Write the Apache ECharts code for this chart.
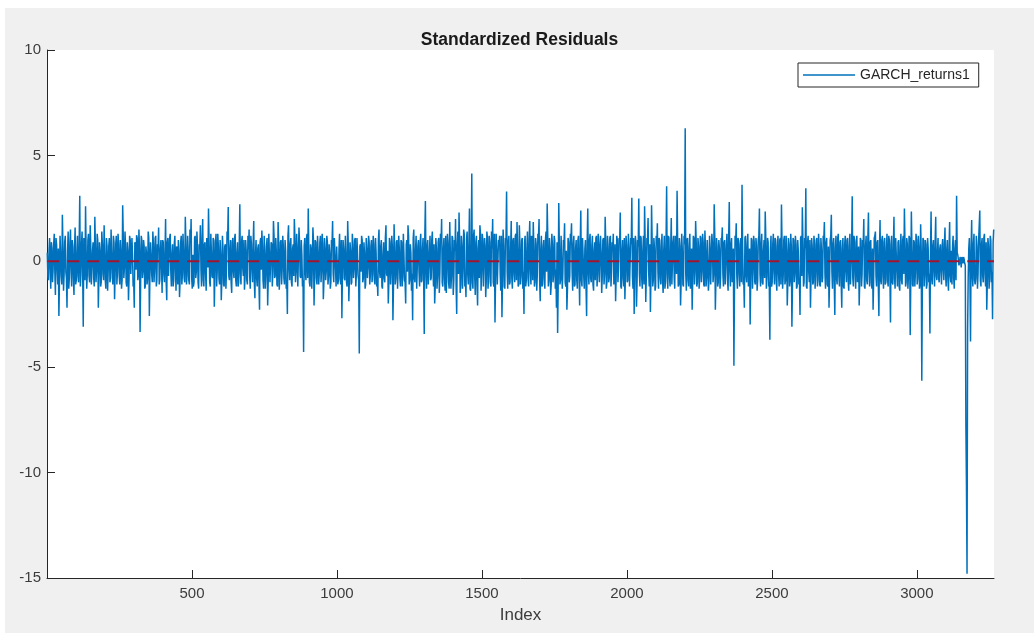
<!DOCTYPE html>
<html>
<head>
<meta charset="utf-8">
<title>Standardized Residuals</title>
<script src="https://cdn.jsdelivr.net/npm/echarts@6/dist/echarts.min.js"></script>
<style>
  html, body { margin: 0; padding: 0; background: #ffffff; width: 1034px; height: 633px; overflow: hidden; }
  #chart { position: absolute; left: 5px; top: 8px; width: 1029px; height: 625px; }
</style>
</head>
<body>
<div id="chart"></div>
<script>
// Standardized residuals of the GARCH fit.
// residualsOnStep holds observations 1, 5, 9, ...; residualsBetween holds 3, 7, 11, ...
const FIRST_INDEX = 1;
const INDEX_STEP = 4;
const LAST_INDEX = 3266;
const residualsOnStep = [
  0.4, -0.9, 1.1, -1.3, 0.6, -0.4, 1.3, -1.6, 0.8, -1.1, -2.6, 1.2, -0.7, 2.2, -1.4, 0.9, -0.5, -2.2, 1.4, -0.8,
  1.5, -1.2, 0.7, -1.6, 1.6, -0.9, 1.2, -1.0, 3.1, -0.6, 1.4, -3.1, 0.8, 2.6, -1.3, 1.0, -0.7, 1.7, -1.1, 0.5,
  -0.8, 2.1, -1.0, 1.3, -2.2, 0.9, -1.2, 1.4, -0.6, 1.7, -0.9, 1.1, -1.4, 0.7, -1.0, 1.5, -0.5, 1.2, -1.8, 0.8,
  -1.1, 1.3, -0.7, 1.0, -1.3, 2.65, -0.8, 1.4, -1.0, 0.9, -1.85, 1.2, -0.6, 1.1, -1.2, -2.2, 0.8, 1.23, -0.9, 1.5,
  -3.35, 1.2, -0.8, 1.0, -1.3, 0.7, -1.1, 1.4, -2.6, 0.9, -0.6, 1.4, -1.0, 1.1, -1.2, 0.8, 1.6, -0.9, 1.0, -1.5,
  0.9, -1.0, 2.0, -1.85, 1.1, -0.7, 1.3, -1.2, 0.8, -0.9, 1.2, -1.4, 0.6, 1.0, -1.7, 0.9, -1.1, 1.3, -0.8, 2.1,
  -1.1, 1.2, -0.9, 1.5, 2.0, -1.3, -1.2, 1.1, -0.8, 1.4, -1.0, 0.8, 1.7, -1.2, 2.0, -1.2, 0.9, -1.4, 1.1, 2.5,
  -1.0, 1.3, -0.7, 1.1, -2.16, 0.9, -1.2, 1.3, -0.8, 1.0, -1.85, 1.2, -1.1, 0.7, -1.3, 1.4, 2.57, -0.9, 1.0, -1.5,
  1.1, -0.8, 1.3, -1.2, 0.9, -1.0, 2.7, -1.1, 1.2, -0.7, -1.35, 1.0, -0.9, 1.2, 1.5, -1.3, 0.8, -1.0, 1.9, -1.75,
  1.0, -1.2, 0.8, -2.3, 1.1, 1.45, -0.9, 1.2, -1.3, 0.7, -2.1, 1.3, -1.0, 0.9, -1.2, 1.9, -0.8, 1.1, -1.1, 1.85,
  -1.35, 0.9, -1.1, 1.2, -0.8, 1.0, -1.3, -2.5, 1.7, -0.9, 1.1, -1.2, 0.8, 2.0, -1.0, 1.3, -1.2, 1.6, -0.7, 1.0,
  -1.2, -4.3, 1.1, -0.9, 1.3, 2.5, -1.0, 0.8, -1.3, 1.6, -2.1, 1.0, -0.8, 1.2, -1.1, 0.9, -1.0, 1.3, -1.8, 1.1,
  -0.9, 1.2, -1.1, 0.8, -1.3, 1.0, 1.9, -1.0, 1.1, -1.2, 0.7, -0.9, 1.3, -1.1, -2.7, 1.0, -0.8, 1.2, -1.0, 1.9,
  -1.9, 0.9, -1.1, 1.3, -0.8, 1.0, -1.2, 1.1, -0.7, -4.37, 0.8, 1.2, -1.0, 0.9, -1.3, 1.1, -0.8, 1.2, -1.1, 0.7,
  -1.0, 1.2, -0.9, 1.1, -1.2, -1.65, 1.5, -0.8, 1.0, -1.3, 0.9, -1.0, 1.7, -0.7, -2.0, 1.1, -1.1, 1.2, -2.8, 1.75,
  -1.1, 0.9, -1.3, 1.2, -0.8, 1.0, -1.2, 1.3, -0.9, -2.0, 1.0, 1.7, -1.1, 0.8, -1.4, -2.8, 1.5, -1.0, 1.2, -1.3,
  1.0, -1.2, 1.3, -0.9, 1.1, -3.45, 2.85, -1.3, 1.0, -1.1, 1.2, -0.8, 1.4, -1.2, -2.0, 1.1, -1.3, 0.9, -1.5, 1.3,
  2.0, -1.2, 1.1, -1.4, -1.5, 1.3, -1.0, 1.85, -1.3, 1.2, -1.6, 1.0, 2.0, -2.5, 1.4, 2.3, -1.5, 1.2, -1.3, 1.5,
  -1.2, -1.7, 1.4, -1.1, 2.5, -1.4, 4.15, -1.3, 1.5, -1.6, 1.2, -2.1, 1.0, 1.7, -1.4, 1.3, -1.2, 1.1, -1.7, 1.4,
  -1.3, 1.2, -1.0, 1.4, 2.0, -1.2, -2.9, 1.3, -1.1, 1.0, 1.2, -1.4, -2.65, 1.5, -1.2, 1.1, 3.3, -1.3, 1.2, -1.0,
  1.9, -1.3, 1.1, -1.0, 1.3, 1.85, -1.2, 1.7, -1.1, 1.0, -1.3, -2.5, 1.2, -0.9, 1.4, -1.2, 1.9, -1.1, 1.0, 1.85,
  -1.2, 1.1, -1.4, 1.3, 2.0, -1.9, 1.2, -1.1, 1.0, -1.3, 1.4, 2.73, -1.2, 1.1, -1.6, 1.3, -1.0, 1.2, -1.3, -2.2,
  -3.4, 2.75, -1.1, 1.2, -1.3, 1.0, 1.8, -1.2, -2.3, 1.1, -1.0, 1.3, 1.8, -1.4, 1.2, -1.1, 1.0, -1.3, 1.2, -2.1,
  2.4, -1.2, 1.1, -1.3, 1.0, -2.6, 2.5, -1.1, 1.3, -1.0, 1.2, -1.4, 0.9, 1.1, -1.2, 1.3, -1.0, 1.2, -1.5, 1.0,
  -1.1, 2.1, -1.3, 1.2, -1.0, 1.1, -1.2, 0.9, 1.3, -1.1, -1.9, 1.2, -1.0, 1.1, 2.3, -1.3, 1.0, -1.2, -1.8, 1.2,
  -1.0, 1.3, -1.2, 1.1, 3.0, -1.3, -2.5, 1.2, -2.16, 1.0, 2.97, -1.2, 1.1, -1.3, 1.2, 2.6, -1.93, 1.1, 2.05, -1.2,
  -2.4, 2.65, -1.2, 1.1, -1.4, 1.2, 1.8, -1.3, 1.0, -1.1, 1.3, -1.5, 1.2, -1.0, 3.55, -1.3, 1.1, -1.2, 2.05, -1.1,
  1.2, -1.3, 1.0, 3.33, -1.2, 1.1, -2.1, 1.3, -1.1, 1.2, 6.3, -1.4, 1.1, -1.2, 1.3, -1.0, -2.3, 1.2, -1.1, 1.9,
  -1.2, 1.1, -1.3, 1.2, -1.0, 1.3, -1.1, 1.45, -1.2, 1.0, -1.4, 1.2, -1.1, 1.3, -1.0, 2.7, -2.3, 1.1, -1.2, 1.0,
  -1.3, 1.1, 1.6, -1.2, 1.0, -1.1, 1.3, -1.4, 2.8, -1.2, 1.1, -1.0, -4.95, 1.2, 1.8, -1.3, 1.0, -1.2, 1.1, 3.62,
  -1.1, -2.2, 1.2, -1.0, 1.3, -1.2, -3.0, 1.1, -1.3, 1.2, -1.0, 1.1, -1.4, 1.0, 2.5, -1.2, 1.3, -1.1, 1.0, 2.35,
  -1.3, 1.1, -1.2, -3.72, 1.2, -1.0, 1.3, -1.1, 1.0, -1.4, 1.2, -1.2, 1.1, 2.68, -1.3, 1.0, -1.1, 1.2, -2.1, 1.1,
  -1.2, 1.3, -3.1, 1.1, -1.0, 1.2, -1.3, 1.0, -1.1, -2.55, 1.2, 2.55, -1.2, 1.1, 3.45, -1.3, 1.2, -1.0, -2.2, 1.1,
  -1.1, 1.2, -1.3, 1.0, -1.2, 1.3, -1.1, 1.1, -1.0, 1.2, 1.85, -1.3, 1.1, -1.2, -2.2, 1.0, 2.2, -1.3, 1.1, -2.55,
  1.2, -1.1, 1.3, -1.2, 1.0, -2.2, 1.1, -1.3, 1.2, -1.0, 1.1, -1.4, 1.3, -1.1, 3.08, -1.2, 1.0, -1.3, 1.2, -1.0,
  -2.1, 1.1, -1.2, 1.0, 2.0, -1.3, 1.2, -1.1, 2.3, -1.2, 1.0, -1.3, -2.3, 1.1, 1.4, -1.2, 1.0, -2.6, 1.95, -1.1,
  1.2, -1.3, 1.1, -1.0, 1.3, -1.2, 1.0, -2.9, 1.2, -1.1, 2.1, -1.3, 1.1, -1.2, 1.0, -1.4, 1.3, -1.1, 1.2, 2.5,
  -1.2, 1.1, -1.3, 1.2, -3.5, 2.35, -1.1, 1.0, -1.2, 1.3, -1.1, 1.2, -1.3, 1.75, -5.66, 1.1, -1.2, 1.0, -1.3, 1.1,
  -1.0, -3.42, 2.35, -1.1, 1.0, -1.2, 2.1, -0.9, 1.1, -1.0, 0.8, -1.1, 1.05, -0.9, 1.6, -1.2, 1.0, -1.4, 1.85, -1.0,
  -1.1, 1.2, -1.3, 1.0, 3.1, 0.3, -0.2, 0.2, -0.3, 0.1, 0.2, -0.1, -7.7, -14.8, -0.8, 1.1, -3.8, 1.95, -1.2, 1.3,
  -1.1, 1.2, -1.3, 1.0, 2.4, -1.2, 1.1, -1.0, 1.3, -1.2, -2.3, 1.1, -1.3, 1.2, -1.0, -2.75, 1.5
];
const residualsBetween = [
  -0.7, 0.5, -0.3, 0.9, -1.0, 0.8, -0.5, 1.1, -0.4, 0.6, -0.9, 0.3, -1.1, 0.7, -0.6, 1.2, -0.8, 0.5, -1.3, 0.9,
  -0.4, 1.0, -0.8, 0.6, -1.1, 0.3, -0.7, 0.9, -1.2, 0.8, -0.5, 1.1, -0.9, 0.4, -0.6, 1.3, -1.0, 0.7, -0.3, 0.9,
  -1.2, 0.6, -0.4, 1.0, -0.7, 0.5, -1.0, 0.8, -0.9, 0.3, -1.3, 0.7, -0.5, 1.1, -0.8, 0.4, -1.1, 0.9, -0.6, 1.2,
  -0.5, 0.8, -1.1, 0.4, -0.9, 1.2, -0.3, 0.7, -1.2, 0.5, -0.8, 1.0, -0.6, 0.3, -1.0, 0.9, -0.4, 1.1, -0.7, 0.6,
  -0.9, 1.0, -0.5, 0.7, -1.2, 0.4, -0.8, 1.1, -0.6, 0.3, -1.0, 0.8, -0.4, 1.2, -0.9, 0.5, -1.1, 0.6, -0.3, 1.0,
  -0.6, 0.4, -1.0, 0.9, -0.7, 1.1, -0.5, 0.3, -1.2, 0.8, -0.4, 0.7, -1.1, 0.5, -0.9, 1.2, -0.6, 0.4, -1.0, 0.8,
  -0.7, 0.5, -1.1, 0.9, -0.8, 0.3, -1.0, 1.2, -0.5, 0.7, -1.3, 0.6, -0.4, 1.0, -0.9, 0.8, -0.6, 1.1, -0.3, 0.9,
  -1.2, 0.4, -0.8, 1.0, -0.6, 1.3, -0.5, 0.7, -1.1, 0.3, -0.9, 0.6, -1.2, 0.8, -0.4, 1.0, -0.7, 0.5, -1.0, 0.9,
  -0.5, 1.1, -0.9, 0.4, -1.2, 0.7, -0.6, 0.9, -0.3, 1.0, -0.8, 0.5, -1.1, 0.6, -0.7, 1.2, -0.4, 0.8, -1.0, 0.3,
  -0.8, 0.6, -1.1, 0.9, -0.4, 0.7, -1.3, 0.5, -0.6, 1.1, -0.9, 0.3, -1.0, 0.8, -0.5, 1.2, -0.7, 0.4, -1.2, 0.9,
  -0.6, 1.0, -0.4, 0.7, -1.1, 0.5, -0.9, 1.2, -0.3, 0.8, -1.0, 0.6, -0.7, 1.1, -0.5, 0.4, -1.2, 0.9, -0.8, 0.3,
  -0.9, 0.7, -0.5, 1.1, -0.8, 0.4, -1.2, 0.6, -0.3, 1.0, -0.7, 0.9, -1.1, 0.5, -0.6, 1.2, -0.4, 0.8, -1.0, 0.6,
  -0.5, 0.9, -0.7, 0.4, -1.0, 0.8, -0.6, 1.1, -0.3, 0.7, -1.1, 0.5, -0.8, 1.0, -0.4, 0.6, -0.9, 0.3, -1.2, 0.8,
  -0.7, 0.5, -1.0, 0.8, -0.4, 1.1, -0.6, 0.3, -0.9, 0.7, -0.5, 1.0, -0.8, 0.4, -1.1, 0.6, -0.3, 0.9, -0.7, 1.0,
  -0.6, 0.8, -1.1, 0.4, -0.9, 1.0, -0.5, 0.7, -1.2, 0.3, -0.8, 1.1, -0.6, 0.5, -1.0, 0.9, -0.4, 0.7, -1.1, 0.6,
  -0.8, 1.0, -0.4, 0.6, -1.2, 0.9, -0.7, 0.3, -1.0, 0.8, -0.5, 1.2, -0.9, 0.4, -0.6, 1.1, -0.8, 0.5, -1.3, 0.7,
  -0.5, 0.9, -1.0, 0.6, -0.8, 1.2, -0.4, 0.7, -1.1, 0.5, -0.9, 1.0, -0.3, 0.8, -1.2, 0.6, -0.7, 1.1, -0.5, 0.9,
  -1.0, 0.6, -0.8, 1.2, -0.5, 0.9, -1.3, 0.4, -0.7, 1.1, -0.9, 0.5, -1.2, 0.8, -0.6, 1.0, -1.1, 0.7, -0.4, 1.3,
  -0.9, 1.1, -0.6, 0.8, -1.3, 0.5, -1.0, 1.2, -0.7, 0.9, -1.1, 0.6, -0.8, 1.3, -0.5, 1.0, -1.2, 0.7, -0.9, 1.1,
  -0.7, 0.9, -1.2, 0.6, -1.0, 1.3, -0.8, 0.5, -1.1, 0.8, -0.6, 1.2, -0.9, 0.7, -1.3, 1.0, -0.5, 0.9, -1.1, 0.6,
  -0.8, 1.0, -0.6, 1.2, -0.9, 0.5, -1.1, 0.8, -0.7, 1.1, -0.5, 0.9, -1.2, 0.6, -0.8, 1.0, -0.4, 1.2, -0.9, 0.7,
  -1.0, 0.8, -0.6, 1.1, -0.9, 0.5, -1.2, 0.7, -0.8, 1.0, -0.5, 1.2, -0.9, 0.6, -1.1, 0.8, -0.7, 1.0, -0.4, 0.9,
  -1.1, 0.7, -0.9, 1.2, -0.6, 0.8, -1.0, 0.5, -1.3, 0.9, -0.7, 1.1, -0.5, 0.8, -1.2, 0.6, -0.9, 1.0, -0.6, 0.8,
  -0.9, 1.1, -0.7, 0.6, -1.2, 0.9, -0.5, 1.0, -0.8, 0.7, -1.1, 0.5, -0.9, 1.2, -0.6, 0.8, -1.0, 0.4, -0.7, 1.1,
  -0.6, 0.9, -1.0, 0.7, -0.8, 1.2, -0.5, 0.6, -1.1, 0.8, -0.7, 1.0, -0.4, 0.9, -1.2, 0.5, -0.8, 1.1, -0.6, 0.7,
  -0.9, 0.6, -1.2, 0.8, -0.7, 1.1, -0.5, 0.9, -1.0, 0.7, -0.6, 1.2, -0.8, 0.5, -1.1, 0.9, -0.7, 1.0, -0.5, 0.8,
  -0.7, 1.0, -0.9, 0.6, -1.2, 0.8, -0.5, 1.1, -0.8, 0.7, -1.0, 0.5, -1.3, 0.9, -0.6, 1.2, -0.8, 0.6, -1.1, 0.9,
  -0.8, 1.2, -0.6, 0.9, -1.1, 0.7, -1.0, 0.5, -1.2, 0.8, -0.6, 1.0, -0.9, 0.7, -1.3, 0.6, -0.8, 1.1, -0.5, 0.9,
  -1.0, 0.7, -0.8, 1.1, -0.5, 0.9, -1.2, 0.6, -0.7, 1.0, -0.9, 0.5, -1.1, 0.8, -0.6, 1.2, -0.9, 0.7, -1.0, 0.6,
  -0.8, 1.0, -0.6, 0.9, -1.1, 0.7, -0.9, 1.2, -0.5, 0.8, -1.0, 0.6, -1.2, 0.9, -0.7, 1.1, -0.6, 0.8, -1.0, 0.7,
  -0.9, 1.1, -0.7, 0.8, -1.2, 0.6, -0.8, 1.0, -0.5, 0.9, -1.1, 0.7, -0.9, 1.2, -0.6, 0.8, -1.0, 0.5, -0.8, 1.1,
  -0.7, 0.9, -1.0, 0.6, -1.2, 0.8, -0.5, 1.1, -0.9, 0.7, -0.6, 1.0, -1.1, 0.8, -0.7, 1.2, -0.9, 0.5, -1.0, 0.8,
  -0.9, 0.7, -1.1, 1.0, -0.6, 0.8, -1.2, 0.5, -0.8, 1.1, -0.7, 0.9, -1.0, 0.6, -1.2, 0.9, -0.5, 1.0, -0.8, 0.7,
  -1.0, 0.8, -0.6, 1.1, -0.9, 0.7, -1.2, 0.5, -0.8, 1.0, -0.6, 0.9, -1.1, 0.7, -0.8, 1.2, -0.5, 0.8, -1.0, 0.6,
  -0.8, 1.1, -0.7, 0.9, -1.0, 0.6, -1.2, 0.8, -0.5, 1.0, -0.9, 0.7, -1.1, 0.6, -0.8, 1.2, -0.6, 0.9, -1.0, 0.7,
  -0.9, 1.0, -0.6, 0.8, -1.2, 0.7, -0.9, 1.1, -0.5, 0.9, -1.0, 0.6, -0.8, 1.2, -0.7, 0.9, -1.1, 0.5, -0.9, 1.0,
  -0.7, 0.9, -1.1, 0.6, -0.9, 1.2, -0.6, 0.8, -1.0, 0.7, -0.8, 1.1, -0.5, 0.9, -1.2, 0.7, -0.9, 1.0, -0.6, 0.8,
  -1.0, 0.8, -0.7, 1.1, -0.9, 0.6, -1.2, 0.9, -0.5, 1.0, -0.8, 0.7, -1.1, 0.5, -0.9, 1.0, -0.7, 0.8, -1.1, 0.6,
  -0.6, 0.5, -0.8, 0.7, -0.5, 0.9, -0.7, 0.4, -0.8, 0.6, -0.5, 0.7, -0.4, 0.8, -0.6, 0.5, -0.9, 0.6, -0.7, 0.5,
  0.7, -0.8, 0.6, -0.9, 0.4, 0.1, -0.1, 0.0, 0.2, -0.1, 0.1, -0.2, -10.6, -3.2, 0.6, -0.7, 0.5, -0.6, 0.8, -0.9,
  -0.8, 0.7, -0.6, 1.0, -0.9, 0.8, -0.7, 1.1, -0.6, 0.9, -1.0, 0.7, -0.8, 1.0, -0.5, 0.9
];

// Reference level drawn as a dashed line across the whole sample
const zeroLevel = 0;

// Axis settings
const yMin = -15, yMax = 10, yStep = 5;
const xMin = 0, xStep = 500;

// Interleave the two sample sets back into observation order
const seriesData = [];
residualsOnStep.forEach((v, i) => {
  seriesData.push([FIRST_INDEX + i * INDEX_STEP, v]);
  if (i < residualsBetween.length) {
    seriesData.push([FIRST_INDEX + i * INDEX_STEP + INDEX_STEP / 2, residualsBetween[i]]);
  }
});
const zeroData = [[FIRST_INDEX, zeroLevel], [LAST_INDEX, zeroLevel]];

const FONT = '"Liberation Sans", Arial, Helvetica, sans-serif';
const AXIS_COLOR = '#262626';
const LABEL_COLOR = '#3c3c3c';

const chart = echarts.init(document.getElementById('chart'), null, { renderer: 'canvas' });

chart.setOption({
  animation: false,
  backgroundColor: '#f0f0f0',
  title: {
    text: 'Standardized Residuals',
    left: 'center',
    top: 18,
    textStyle: { fontFamily: FONT, fontSize: 17.5, fontWeight: 'bold', color: '#1a1a1a' }
  },
  legend: {
    data: [{ name: 'GARCH_returns1', icon: 'rect' }],
    left: 793,
    top: 55,
    orient: 'horizontal',
    itemWidth: 52,
    itemHeight: 1.5,
    padding: [5, 9, 5, 5],
    backgroundColor: '#ffffff',
    borderColor: AXIS_COLOR,
    borderWidth: 1,
    borderRadius: 0,
    textStyle: { fontFamily: FONT, fontSize: 14, color: '#262626' }
  },
  grid: {
    left: 42,
    right: 40,
    top: 42,
    bottom: 55,
    show: true,
    backgroundColor: '#ffffff',
    borderWidth: 0,
    containLabel: false
  },
  xAxis: {
    type: 'value',
    min: xMin,
    max: LAST_INDEX,
    interval: xStep,
    name: 'Index',
    nameLocation: 'middle',
    nameGap: 29,
    nameTextStyle: { fontFamily: FONT, fontSize: 17, color: LABEL_COLOR },
    axisLine: { show: true, onZero: false, lineStyle: { color: AXIS_COLOR, width: 1 } },
    axisTick: { show: true, inside: true, length: 8, lineStyle: { color: AXIS_COLOR, width: 1 } },
    axisLabel: {
      showMinLabel: false,
      showMaxLabel: false,
      margin: 8,
      fontFamily: FONT,
      fontSize: 15,
      color: LABEL_COLOR,
      formatter: v => (v % xStep === 0 && v > 0) ? String(v) : ''
    },
    splitLine: { show: false }
  },
  yAxis: {
    type: 'value',
    min: yMin,
    max: yMax,
    interval: yStep,
    axisLine: { show: true, onZero: false, lineStyle: { color: AXIS_COLOR, width: 1 } },
    axisTick: { show: true, inside: true, length: 8, lineStyle: { color: AXIS_COLOR, width: 1 } },
    axisLabel: { margin: 6, fontFamily: FONT, fontSize: 15, color: LABEL_COLOR },
    splitLine: { show: false }
  },
  series: [
    {
      name: 'GARCH_returns1',
      type: 'line',
      data: seriesData,
      symbol: 'none',
      showSymbol: false,
      lineStyle: { color: '#0072BD', width: 1.5 },
      itemStyle: { color: '#0072BD' },
      z: 2
    },
    {
      name: 'zero',
      type: 'line',
      data: zeroData,
      symbol: 'none',
      showSymbol: false,
      silent: true,
      lineStyle: { color: '#A2142F', width: 2, type: [12, 8] },
      z: 3
    }
  ]
});
</script>
</body>
</html>
